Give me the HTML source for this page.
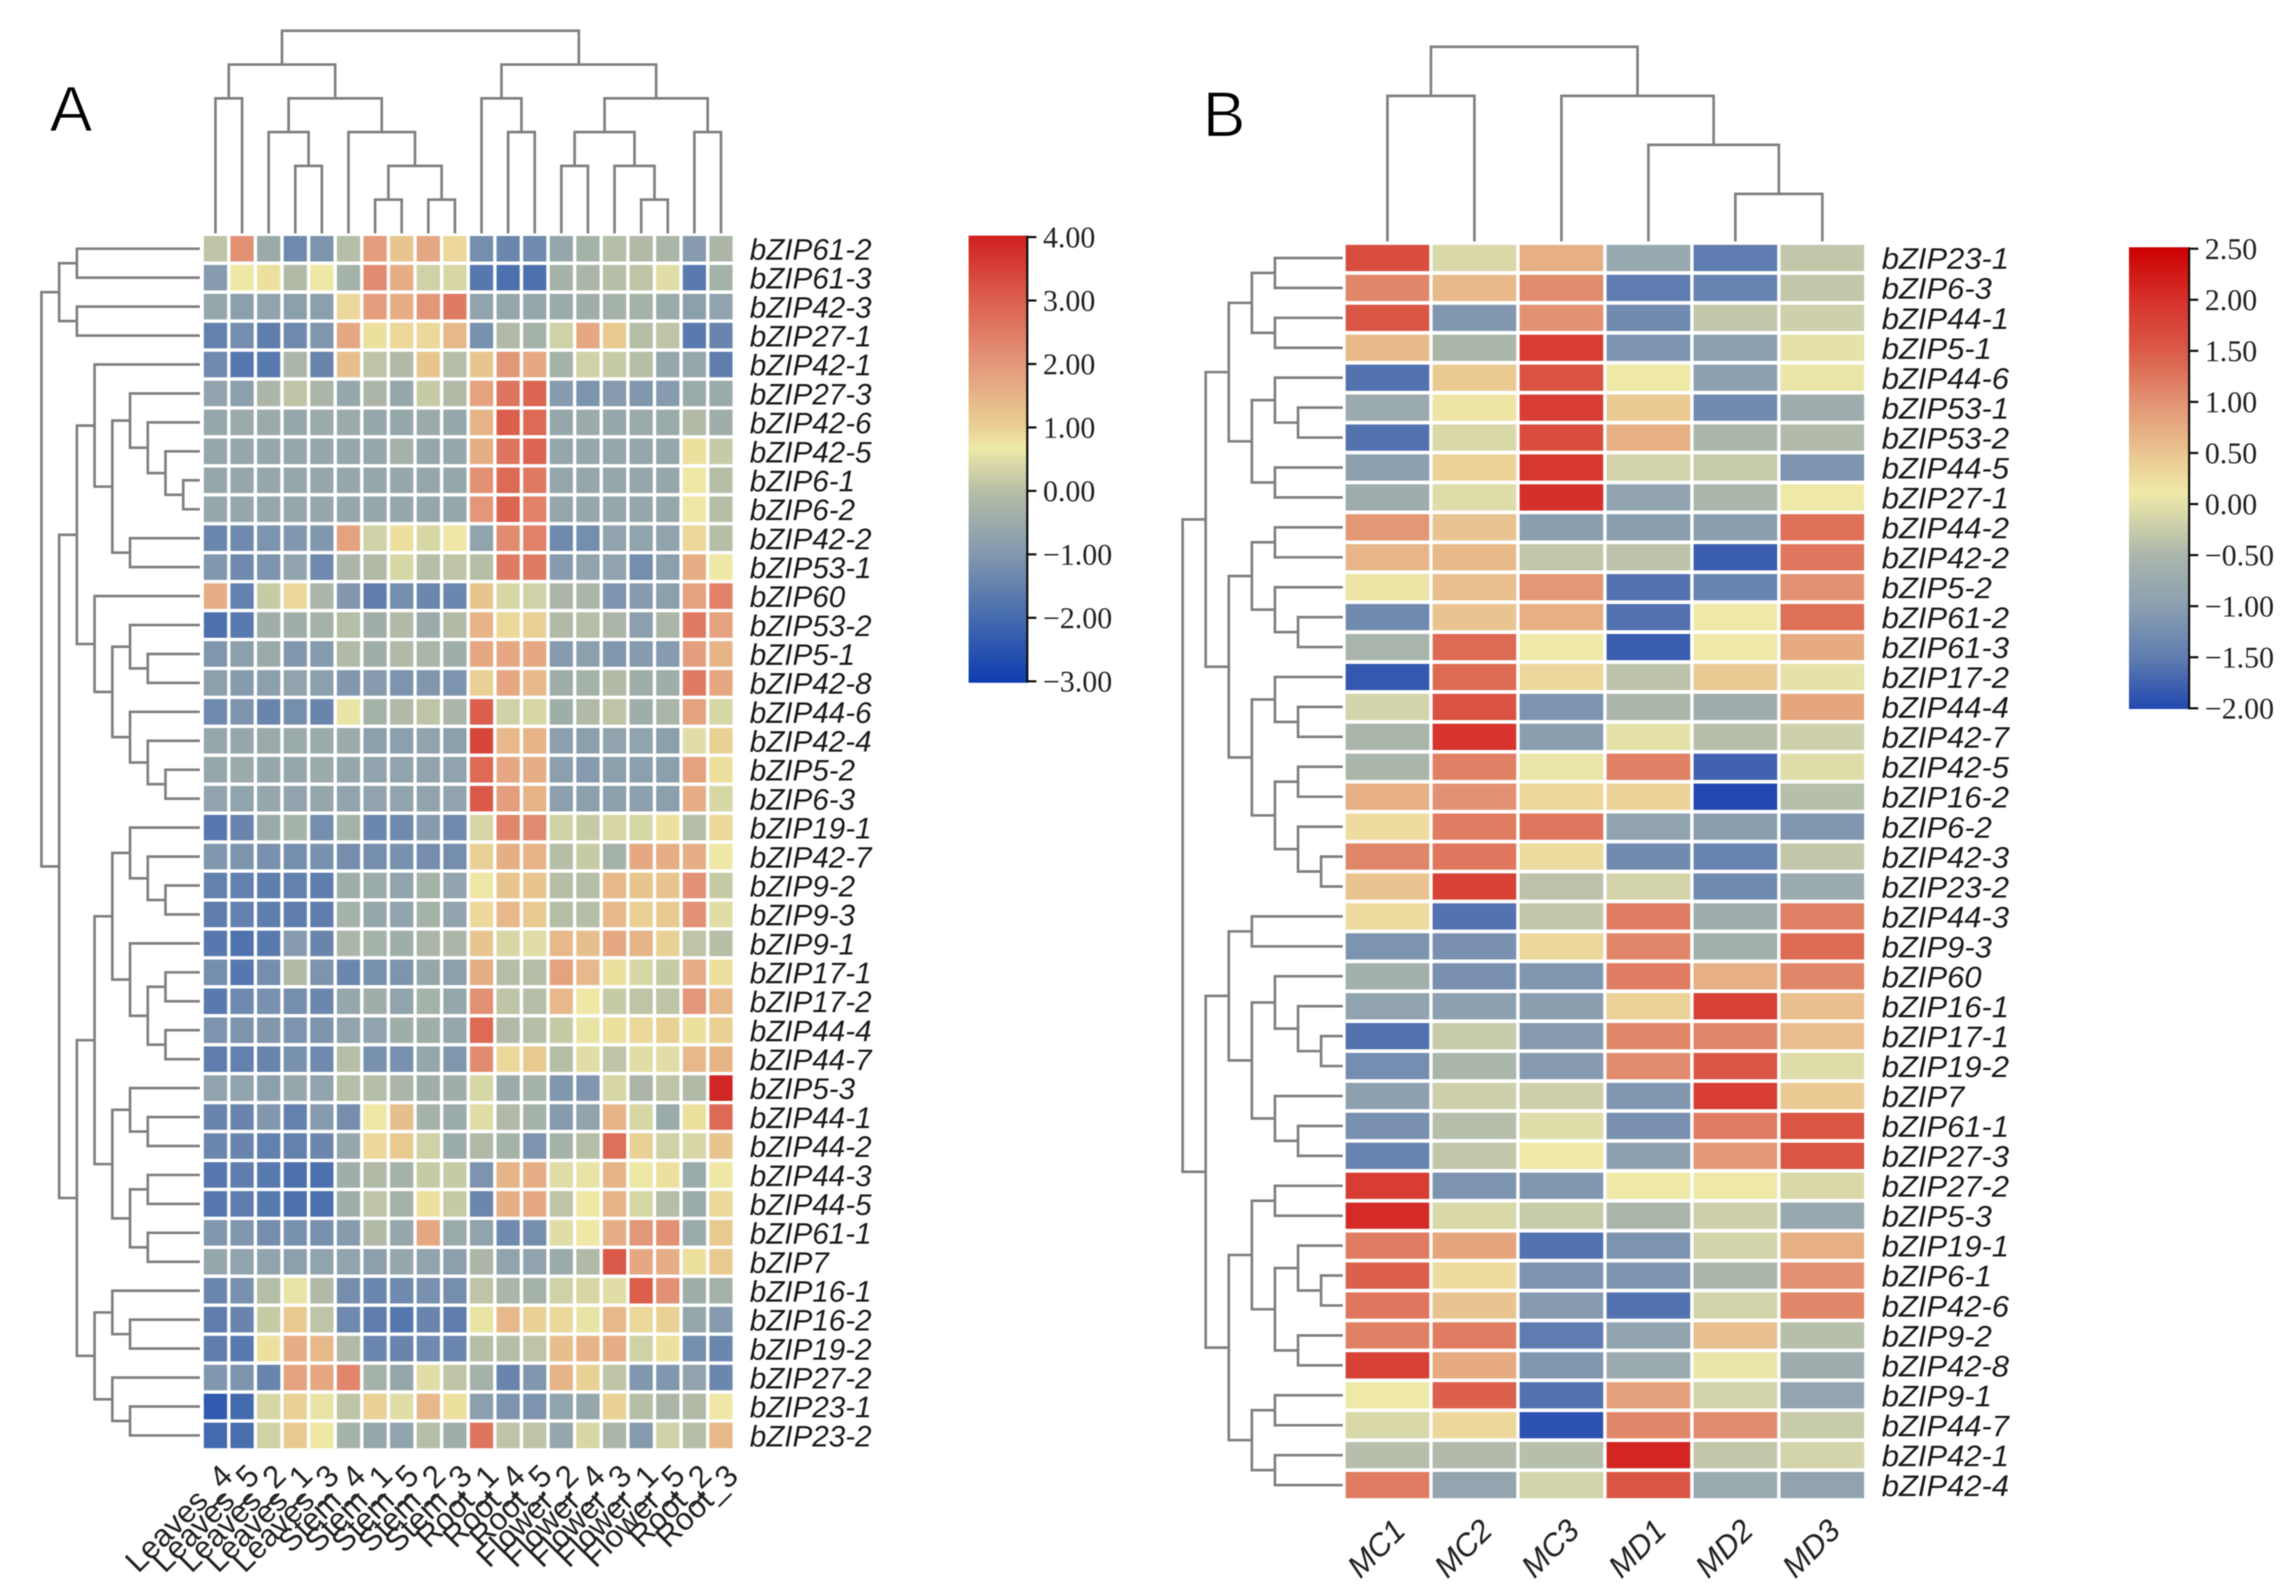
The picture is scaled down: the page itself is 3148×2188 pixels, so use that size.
<!DOCTYPE html>
<html lang="en">
<head>
<meta charset="utf-8">
<title>bZIP expression heatmaps</title>
<style>
html,body{margin:0;padding:0;background:#fff;width:3148px;height:2188px;overflow:hidden}
svg{display:block;filter:blur(0.8px)}
.row-label{font-family:"Liberation Sans",sans-serif;font-style:italic;font-size:41px;fill:#1a1a1a}
.col-label-a{font-family:"Liberation Sans",sans-serif;font-size:43px;fill:#222}
.col-label-b{font-family:"Liberation Sans",sans-serif;font-style:italic;font-size:43px;fill:#222}
.bar-label{font-family:"Liberation Serif",serif;font-size:41px;fill:#222}
.panel{font-family:"Liberation Sans",sans-serif;font-size:88px;fill:#000;stroke:#fff;stroke-width:1.5px}
</style>
</head>
<body>
<svg id="chart" xmlns="http://www.w3.org/2000/svg" width="3148" height="2188" viewBox="0 0 3148 2188">
<rect width="3148" height="2188" fill="#fff"/>
<text class="panel" x="68" y="180">A</text>
<text class="panel" x="1649" y="187">B</text>
</svg>
<script>
const colLabelsA = ["Leaves_4","Leaves_5","Leaves_2","Leaves_1","Leaves_3","Stem_4","Stem_1","Stem_5","Stem_2","Stem_3","Root_1","Root_4","Root_5","Flower_2","Flower_4","Flower_3","Flower_1","Flower_5","Root_2","Root_3"];
const rowLabelsA = ["bZIP61-2","bZIP61-3","bZIP42-3","bZIP27-1","bZIP42-1","bZIP27-3","bZIP42-6","bZIP42-5","bZIP6-1","bZIP6-2","bZIP42-2","bZIP53-1","bZIP60","bZIP53-2","bZIP5-1","bZIP42-8","bZIP44-6","bZIP42-4","bZIP5-2","bZIP6-3","bZIP19-1","bZIP42-7","bZIP9-2","bZIP9-3","bZIP9-1","bZIP17-1","bZIP17-2","bZIP44-4","bZIP44-7","bZIP5-3","bZIP44-1","bZIP44-2","bZIP44-3","bZIP44-5","bZIP61-1","bZIP7","bZIP16-1","bZIP16-2","bZIP19-2","bZIP27-2","bZIP23-1","bZIP23-2"];
const valuesA = [
[0.1,2.1,-0.5,-1.3,-1.07,0,1.9,1.2,1.7,0.9,-1.2,-1.35,-1.3,-0.6,-0.3,0,-0.1,-0.2,-0.9,-0.2],
[-0.9,0.7,0.8,-0.1,0.7,-0.3,2.2,1.6,0.3,0.4,-1.7,-1.85,-1.85,-0.3,-0.2,0,0.1,0.5,-1.65,-0.3],
[-0.6,-0.8,-0.7,-0.8,-0.8,0.9,1.9,1.6,2,2.5,-0.7,-0.6,-0.6,-0.5,-0.4,-0.3,-0.3,-0.5,-0.8,-0.7],
[-1.5,-1.2,-1.55,-1.3,-1,1.7,0.8,0.9,0.9,1.4,-1.14,-0.1,-0.3,0.3,1.7,1.1,0,0.1,-1.65,-1.4],
[-1.3,-1.7,-1.65,-0.2,-1.4,1.3,0.1,-0.1,1.2,0,1.2,2,1.7,-0.3,0.3,0.2,0,-0.6,-0.6,-1.55],
[-0.7,-0.8,-0.2,0.1,-0.2,-0.6,-0.2,-0.6,0.2,-0.1,1.8,2.6,2.9,-0.9,-1.07,-0.9,-1,-0.9,-0.5,-0.5],
[-0.6,-0.5,-0.5,-0.6,-0.5,-0.5,-0.6,-0.6,-0.5,-0.6,1.5,3,2.8,-0.6,-0.5,-0.6,-0.5,-0.5,-0.1,-0.4],
[-0.6,-0.6,-0.6,-0.6,-0.6,-0.6,-0.6,-0.3,-0.6,-0.6,1.6,2.6,2.9,-0.6,-0.6,-0.6,-0.6,-0.6,0.8,0.2],
[-0.6,-0.6,-0.6,-0.6,-0.6,-0.6,-0.6,-0.6,-0.6,-0.6,2.1,2.8,2.5,-0.6,-0.6,-0.6,-0.6,-0.6,0.7,0],
[-0.6,-0.6,-0.6,-0.6,-0.6,-0.6,-0.6,-0.6,-0.6,-0.6,2,2.9,2.4,-0.6,-0.6,-0.6,-0.6,-0.6,0.7,0],
[-1.35,-1.3,-1.07,-1,-1,1.8,0.3,0.8,0.4,0.7,-0.7,2.2,2.4,-1.3,-1.2,-0.7,-0.7,-0.7,0.9,0],
[-1,-1.3,-1.07,-0.7,-1.3,-0.2,-0.1,0.4,0,0.1,0,2.5,2.5,-0.9,-0.7,-0.7,-1.2,-0.8,1.6,0.7],
[1.6,-1.5,0.2,0.9,-0.2,-1,-1.55,-1.2,-1.35,-1.35,1.2,0.4,0.3,-0.2,-0.2,-1.07,-0.9,-0.8,1.8,2.4],
[-1.85,-1.65,-0.4,-0.4,-0.3,0,-0.4,-0.1,-0.5,-0.1,1.5,0.9,1,-0.1,0,-0.2,-0.8,-0.2,2.5,1.8],
[-1,-0.8,-0.5,-1,-0.9,-0.1,-0.4,-0.1,-0.2,-0.4,1.7,1.7,1.7,-0.9,-0.8,-1,-0.9,-0.9,1.9,1.5],
[-0.8,-0.9,-0.8,-0.7,-0.8,-1,-0.9,-1.07,-1,-1.07,1,1.7,1.4,-0.4,-0.3,-0.1,-0.4,-0.4,2.5,1.7],
[-1.3,-1.07,-1.4,-1.2,-1.4,0.6,-0.3,-0.1,0.1,-0.2,3,0.3,0.4,-0.4,-0.1,0.1,-0.4,-0.2,1.8,0.4],
[-0.6,-0.6,-0.5,-0.5,-0.5,-0.5,-0.8,-0.8,-0.7,-0.8,3.4,1.4,1.5,-0.8,-0.8,-0.7,-0.7,-0.8,0.5,1],
[-0.6,-0.5,-0.6,-0.6,-0.5,-0.6,-0.7,-0.7,-0.7,-0.7,2.8,1.7,1.6,-0.8,-0.9,-0.8,-0.8,-0.8,1.8,0.8],
[-0.7,-0.7,-0.6,-0.7,-0.6,-0.7,-0.7,-0.7,-0.7,-0.7,3.1,1.9,1.5,-0.8,-0.8,-0.8,-0.8,-0.8,1.6,0.4],
[-1.7,-1.4,-0.5,-0.3,-1.2,-0.3,-1.35,-1.3,-0.9,-1.3,0.4,2.3,2.2,0.3,0.2,0.4,0.4,0.8,0,0.9],
[-1,-1.07,-1.14,-1.2,-1.14,-1.2,-1.2,-1.14,-1.2,-1.2,1,1.6,1.5,0,0.2,-0.3,1.7,1.6,1.6,0.7],
[-1.5,-1.5,-1.55,-1.5,-1.55,-0.4,-0.5,-0.7,-0.3,-0.7,0.7,1.2,1.2,0,0,1.4,1.2,1.2,2.1,0.2],
[-1.55,-1.5,-1.55,-1.55,-1.55,-0.3,-0.6,-0.7,-0.3,-0.7,0.9,1.4,1.1,0,0,1.4,1,1.1,2.1,0.5],
[-1.7,-1.8,-1.65,-0.9,-1.4,-0.2,-0.3,-0.4,-0.2,-0.2,1.2,0.4,0.5,1.4,1.3,1.7,1.5,1,0.1,0],
[-1.2,-1.7,-1.2,-0.1,-1.07,-1.35,-1.14,-1.07,-0.6,-0.8,1.6,0,0,1.8,1.4,0.8,0.4,0.2,1.6,0.8],
[-1.65,-1.3,-1.14,-1.2,-1.35,-0.6,-0.4,-0.7,-0.3,-0.6,2.1,0.1,0,1.4,0.7,0.2,0.1,0.1,2,1.4],
[-1.07,-1.07,-1,-1.07,-1.07,-0.7,-0.7,-0.4,-0.4,-0.6,2.8,-0.1,0,0.2,0.6,0.8,0.9,1,0.8,1],
[-1.55,-1.5,-1.4,-1.14,-1.3,0,-1.14,-1.14,-0.6,-1,2.2,0.9,1.1,0,0.5,0.1,0.5,0.5,1.4,1.5],
[-0.7,-0.7,-0.8,-0.6,-0.7,0,0,-0.2,-0.4,-0.4,0.4,-0.5,-0.3,-1,-1,0.4,-0.2,0.1,-0.1,3.9],
[-1.4,-1.4,-1,-1.5,-0.9,-1.2,0.7,1.3,-0.3,-0.5,0.5,-0.1,-0.3,-0.9,-0.7,1.5,0.4,-0.5,0.8,2.8],
[-1.35,-1.4,-1.5,-1.5,-1.35,-0.6,0.9,1.1,0.3,-0.5,-0.1,-0.3,-1.07,-0.3,0,2.7,1,0.3,0.4,1.2],
[-1.7,-1.55,-1.65,-1.85,-1.85,-0.4,-0.1,-0.3,0.2,0.2,-1.07,1.5,1.6,0.5,0.6,1.5,0.7,0.8,-0.5,0.7],
[-1.7,-1.55,-1.65,-1.85,-1.85,-0.4,0.1,-0.3,0.8,0.2,-1.35,1.6,1.7,0.1,0.7,1.5,0.4,0,-0.5,0.9],
[-1,-1,-1.2,-1.14,-1.14,-0.9,-0.1,-0.6,1.7,-0.5,-0.7,-1.3,-1.2,0.5,0.7,1.6,2,2.1,-0.5,1.1],
[-0.6,-0.7,-0.7,-0.8,-0.7,-0.7,-0.8,-0.6,-0.7,-0.8,-0.2,-0.7,-0.7,-0.5,-0.1,3.1,1.7,1.6,0.8,1.1],
[-1.35,-1.14,0,0.6,-0.1,-1.2,-1.35,-1.3,-1.14,-1.2,0.1,-0.2,-0.3,0.3,0.4,0.5,3,2.1,-0.4,-0.3],
[-1.55,-1.4,0.2,1.1,0.1,-1.3,-1.55,-1.7,-1.4,-1.55,0.6,1.4,1,0.9,0.6,1.4,0.9,1,-0.6,-0.9],
[-1.55,-1.65,0.8,1.6,1.4,-0.1,-1.35,-1.4,-1.3,-1.35,0,0,0.1,1.3,1.5,1.6,0.3,0.8,-1.2,-1.35],
[-1,-1.07,-1.4,1.8,1.7,2.3,-0.3,-0.6,0.5,0.1,-0.3,-1.4,-1,1.5,1,0.1,-1,-1,-0.7,-1.35],
[-2.35,-2,0.4,1,0.6,0.1,1,0.5,1.4,0.8,-0.8,-1.07,-1.07,-0.7,-0.6,1,0,-0.2,-0.1,0.7],
[-2,-1.9,0.3,1.1,0.7,-0.3,-0.6,-0.7,0,-0.4,2.6,0.1,0.1,-0.6,0.4,-0.2,-0.9,0.3,0,1.4]
];
const colLabelsB = ["MC1","MC2","MC3","MD1","MD2","MD3"];
const rowLabelsB = ["bZIP23-1","bZIP6-3","bZIP44-1","bZIP5-1","bZIP44-6","bZIP53-1","bZIP53-2","bZIP44-5","bZIP27-1","bZIP44-2","bZIP42-2","bZIP5-2","bZIP61-2","bZIP61-3","bZIP17-2","bZIP44-4","bZIP42-7","bZIP42-5","bZIP16-2","bZIP6-2","bZIP42-3","bZIP23-2","bZIP44-3","bZIP9-3","bZIP60","bZIP16-1","bZIP17-1","bZIP19-2","bZIP7","bZIP61-1","bZIP27-3","bZIP27-2","bZIP5-3","bZIP19-1","bZIP6-1","bZIP42-6","bZIP9-2","bZIP42-8","bZIP9-1","bZIP44-7","bZIP42-1","bZIP42-4"];
const valuesB = [
[1.65,-0.1,0.7,-0.8,-1.5,-0.3],
[1.1,0.6,1.05,-1.5,-1.4,-0.3],
[1.55,-1.1,1,-1.3,-0.3,-0.2],
[0.6,-0.5,1.85,-1.15,-0.95,0],
[-1.6,0.45,1.6,0.1,-0.95,0.05],
[-0.75,0.15,1.85,0.45,-1.3,-0.7],
[-1.6,-0.1,1.65,0.7,-0.5,-0.45],
[-0.95,0.35,1.9,-0.15,-0.25,-1.15],
[-0.7,-0.05,2,-0.9,-0.5,0.1],
[0.95,0.5,-1,-1,-1,1.3],
[0.65,0.6,-0.3,-0.35,-1.8,1.25],
[0.15,0.55,0.95,-1.6,-1.4,1],
[-1.3,0.5,0.7,-1.6,0.1,1.3],
[-0.55,1.35,0.1,-1.8,0.1,0.75],
[-1.85,1.35,0.3,-0.35,0.45,0],
[-0.15,1.6,-1.15,-0.5,-0.7,0.8],
[-0.5,1.95,-1,0,-0.4,-0.2],
[-0.5,1.15,0.05,1.15,-1.75,-0.05],
[0.7,1,0.3,0.35,-2,-0.4],
[0.25,1.2,1.25,-0.9,-1,-1.1],
[1.1,1.25,0.25,-1.3,-1.4,-0.3],
[0.5,1.8,-0.35,-0.15,-1.3,-0.75],
[0.25,-1.6,-0.3,1.2,-0.7,1.15],
[-1.15,-1.2,0.3,1.1,-0.65,1.35],
[-0.65,-1.2,-1.1,1.2,0.7,1.1],
[-0.9,-0.95,-1,0.35,1.8,0.55],
[-1.6,-0.25,-1.05,1.1,1.1,0.55],
[-1.25,-0.5,-1.05,1.05,1.55,-0.05],
[-0.95,-0.2,-0.2,-1.1,1.85,0.45],
[-1.2,-0.4,-0.05,-1.2,1.2,1.55],
[-1.4,-0.3,0.1,-0.95,0.95,1.55],
[1.85,-1.15,-1.1,0.1,0.1,-0.1],
[2.05,-0.1,-0.25,-0.5,-0.2,-0.8],
[1.2,0.8,-1.6,-1.15,-0.15,0.7],
[1.45,0.25,-1.15,-1.15,-0.5,1],
[1.25,0.5,-1.05,-1.6,-0.15,1.1],
[1.15,1.2,-1.5,-0.9,0.55,-0.4],
[1.8,0.75,-1.1,-0.75,0.05,-0.7],
[0.1,1.45,-1.6,0.85,-0.15,-0.85],
[-0.1,0.3,-1.9,1.1,1.05,-0.25],
[-0.4,-0.45,-0.4,2.1,-0.3,-0.15],
[1.2,-0.85,-0.15,1.55,-0.75,-0.9]
];
const ticksA = [4,3,2,1,0,-1,-2,-3];
const ticksB = [2.5,2,1.5,1,0.5,0,-0.5,-1,-1.5,-2];
const stopValuesA = [-3,-2,-1,0,0.68,1,2,3,4];
const stopColorsA = ["#0c3cb0","#446aae","#8197ae","#b5bea6","#efe9a6","#e9d094","#e3977a","#db5f4c","#cf2020"];
const stopValuesB = [-2,-1.5,-1,-0.5,0.1,0.5,1,1.5,2,2.5];
const stopColorsB = ["#2248b0","#5f7cb0","#8a9eb0","#abb6ab","#efe9a8","#e9c490","#e29272","#db5a47","#d5302a","#cc0000"];
// Dendrograms: [mergeHeight, left, right]; a bare number is a leaf index.
const colTreeA = [6,[5,[4,0,1],[4,[3,2,[2,3,4]],[3,5,[2,[1,6,7],[1,8,9]]]]],[5,[4,10,[3,11,12]],[4,[3,[2,13,14],[2,15,[1,16,17]]],[3,18,19]]]];
const rowTreeA = [9,[8,[7,0,1],[7,2,3]],[8,[7,[6,4,[5,[4,5,[3,6,[2,7,[1,8,9]]]],[4,10,11]]],[6,12,[5,[4,13,[3,14,15]],[4,16,[3,17,[2,18,19]]]]]],[7,[6,[5,[4,20,[3,21,[2,22,23]]],[4,24,[3,[2,25,26],[2,27,28]]]],[5,[4,29,[3,30,31]],[4,[3,32,33],[3,34,35]]]],[6,[5,36,[4,37,38]],[5,39,[4,40,41]]]]]];
const colTreeB = [4,[3,0,1],[3,2,[2,3,[1,4,5]]]];
const rowTreeB = [7,[6,[5,[4,[3,0,1],[3,2,3]],[4,[3,4,[2,5,6]],[3,7,8]]],[5,[4,[3,9,10],[3,11,[2,12,13]]],[4,[3,14,[2,15,16]],[3,[2,17,18],[2,19,[1,20,21]]]]]],[6,[5,[4,22,23],[4,[3,24,[2,25,[1,26,27]]],[3,28,[2,29,30]]]],[5,[4,[3,31,32],[3,[2,33,[1,34,35]],[2,36,37]]],[4,[3,38,39],[3,40,41]]]]];

const SVGNS = "http://www.w3.org/2000/svg";
const root = document.getElementById("chart");
function mk(tag, attrs, parent) {
  const el = document.createElementNS(SVGNS, tag);
  for (const k in attrs) el.setAttribute(k, attrs[k]);
  (parent || root).appendChild(el);
  return el;
}
function hexRgb(h) { return [1,3,5].map(i => parseInt(h.substr(i,2),16)); }
function colorFor(v, vals, cols) {
  if (v <= vals[0]) return cols[0];
  for (let i = 1; i < vals.length; i++) {
    if (v <= vals[i]) {
      const t = (v - vals[i-1]) / (vals[i] - vals[i-1]);
      const a = hexRgb(cols[i-1]), b = hexRgb(cols[i]);
      return "rgb(" + a.map((c,j) => Math.round(c + (b[j]-c)*t)).join(",") + ")";
    }
  }
  return cols[cols.length-1];
}
function drawHeatmap(prefix, values, rowLabels, xOf, yOf, cellW, cellH, stopV, stopC, labelX, labelScale) {
  const g = mk("g", {});
  
  
  values.forEach((row, r) => {
    row.forEach((v, c) => {
      const cell = mk("rect", {x: xOf(c) - cellW/2, y: yOf(r) - cellH/2, width: cellW, height: cellH, fill: colorFor(v, stopV, stopC)}, g);
      
      
    });
    const t = mk("text", {class: "row-label", transform: "translate(" + labelX + "," + (yOf(r) + 15) + ") scale(" + labelScale + ",1)"});
    t.textContent = rowLabels[r];
    
    
  });
}
function drawTree(node, leafPos, hPos, segs) {
  if (typeof node === "number") return {p: leafPos(node), h: 0};
  const a = drawTree(node[1], leafPos, hPos, segs);
  const b = drawTree(node[2], leafPos, hPos, segs);
  segs.push({a: a, b: b, h: node[0]});
  return {p: (a.p + b.p) / 2, h: node[0]};
}
function drawDendrogram(name, tree, leafPos, hPos, vertical) {
  const segs = [];
  drawTree(tree, leafPos, hPos, segs);
  const g = mk("g", {fill: "none", stroke: "#7f7f7f", "stroke-width": 3.6});
  
  
  segs.forEach(s => {
    const ha = hPos(s.a.h), hb = hPos(s.b.h), hm = hPos(s.h);
    const d = vertical
      ? "M" + s.a.p + " " + ha + "V" + hm + "H" + s.b.p + "V" + hb
      : "M" + ha + " " + s.a.p + "H" + hm + "V" + s.b.p + "H" + hb;
    const p = mk("path", {d: d}, g);
    
    
  });
}
function drawColorbar(name, ticks, stopV, stopC, x0, x1, top, bottom, yOf, labelX) {
  const defs = mk("defs", {});
  const grad = mk("linearGradient", {id: name + "-grad", x1: 0, y1: 1, x2: 0, y2: 0}, defs);
  const lo = stopV[0], hi = stopV[stopV.length-1];
  stopV.forEach((v, i) => {
    mk("stop", {offset: (v - lo) / (hi - lo), "stop-color": stopC[i]}, grad);
  });
  const bar = mk("rect", {x: x0, y: top, width: x1 - x0, height: bottom - top, fill: "url(#" + name + "-grad)"});
  
  
  const axis = mk("line", {x1: x1 + 1.5, x2: x1 + 1.5, y1: top, y2: bottom, stroke: "#111", "stroke-width": 3});
  
  
  ticks.forEach(v => {
    const y = yOf(v);
    const tick = mk("line", {x1: x1, x2: x1 + 14, y1: y, y2: y, stroke: "#111", "stroke-width": 3});
    
    
    const t = mk("text", {class: "bar-label", x: labelX, y: y + 14});
    t.textContent = (v < 0 ? "\u2212" : "") + Math.abs(v).toFixed(2);
    
    
  });
}

// Panel A axes
const xA = c => 295.4 + 36.48 * c;
const yA = r => 341 + 39.68 * r;
drawHeatmap("expression-a", valuesA, rowLabelsA, xA, yA, 31.8, 35, stopValuesA, stopColorsA, 1028, 0.99);
drawDendrogram("column-dendrogram-a", colTreeA, xA, h => h === 0 ? 320 : 320 - 46.3 * h, true);
drawDendrogram("row-dendrogram-a", rowTreeA, yA, h => h === 0 ? 274 : 275.5 - 24.3 * h, false);
drawColorbar("colorbar-a", ticksA, stopValuesA, stopColorsA, 1328, 1407, 323, 936, v => 673 - 87 * v, 1430);
colLabelsA.forEach((s, c) => {
  const t = mk("text", {class: "col-label-a", "text-anchor": "end", transform: "translate(" + (xA(c) + 26) + ",2026) rotate(-45)"});
  t.textContent = s;
  
  
});

// Panel B axes
const xB = c => 1902.3 + 119.26 * c;
const yB = r => 353.7 + 41.03 * r;
drawHeatmap("expression-b", valuesB, rowLabelsB, xB, yB, 114.6, 36, stopValuesB, stopColorsB, 2580, 1.035);
drawDendrogram("column-dendrogram-b", colTreeB, xB, h => h === 0 ? 331 : 333 - 67.2 * h, true);
drawDendrogram("row-dendrogram-b", rowTreeB, yB, h => h === 0 ? 1841 : 1843 - 31.65 * h, false);
drawColorbar("colorbar-b", ticksB, stopValuesB, stopColorsB, 2919, 3000, 339, 972, v => 691 - 140 * v, 3023);
colLabelsB.forEach((s, c) => {
  const t = mk("text", {class: "col-label-b", "text-anchor": "end", transform: "translate(" + (xB(c) + 27) + ",2101) rotate(-45)"});
  t.textContent = s;
  
  
});
</script>
</body>
</html>
